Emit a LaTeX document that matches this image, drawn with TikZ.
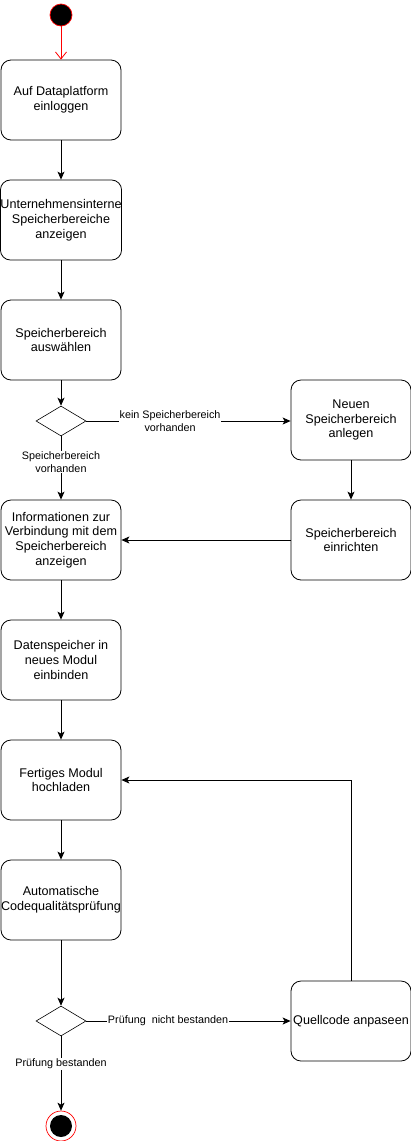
\documentclass[tikz,border=0pt]{standalone}
\usepackage{fontspec}
\setmainfont{Liberation Sans}
\usetikzlibrary{arrows.meta,shapes.geometric}
\begin{document}
\begin{tikzpicture}[x=1pt,y=-1pt,
  box/.style={draw,rounded corners=10pt,minimum width=120pt,minimum height=80pt,align=center,font=\fontsize{12.6}{14.8}\selectfont,inner sep=0pt,line width=0.8pt},
  dec/.style={draw,diamond,aspect=1.6667,minimum width=50pt,minimum height=30pt,inner sep=0pt,line width=0.6pt},
  lbl/.style={fill=white,align=center,font=\fontsize{10.8}{12.5}\selectfont,inner sep=1pt},
  arr/.style={line width=0.8pt,-{Stealth[length=8pt,width=7pt,inset=2pt]}}]
\useasboundingbox (0,0) rectangle (411,1141);
\node[circle,fill=black,draw=red,line width=0.7pt,minimum size=22pt,inner sep=0pt] (start) at (61,15) {};
\node[box] (b1) at (61,100) {Auf Dataplatform\\einloggen};
\node[box] (b2) at (61,220) {Unternehmensinterne\\Speicherbereiche\\anzeigen};
\node[box] (b3) at (61,340) {Speicherbereich\\auswählen};
\node[dec] (d1) at (61,421) {};
\node[box] (b4) at (61,540) {Informationen zur\\Verbindung mit dem\\Speicherbereich\\anzeigen};
\node[box] (b5) at (61,660) {Datenspeicher in\\neues Modul\\einbinden};
\node[box] (b6) at (61,780) {Fertiges Modul\\hochladen};
\node[box] (b7) at (61,900) {Automatische\\Codequalitätsprüfung};
\node[dec] (d2) at (61,1021) {};
\node[circle,draw=red,line width=0.7pt,minimum size=30pt,inner sep=0pt] (end) at (61,1126) {};
\node[circle,fill=black,minimum size=22pt,inner sep=0pt] (endin) at (61,1126) {};
\node[box] (r1) at (351,420) {Neuen\\Speicherbereich\\anlegen};
\node[box] (r2) at (351,540) {Speicherbereich\\einrichten};
\node[box] (r3) at (351,1021) {Quellcode anpaseen};
\draw[red,line width=0.8pt,-{Straight Barb[length=7pt,width=11pt]}] (start) -- (b1);
\draw[arr] (b1) -- (b2);
\draw[arr] (b2) -- (b3);
\draw[arr] (b3) -- (d1);
\draw[arr] (d1) -- node[lbl,pos=0.41]{Speicherbereich\\vorhanden} (b4);
\draw[arr] (d1.east) -- node[lbl,pos=0.41]{kein Speicherbereich\\vorhanden} (r1.west|-d1.east);
\draw[arr] (r1) -- (r2);
\draw[arr] (r2) -- (b4);
\draw[arr] (b4) -- (b5);
\draw[arr] (b5) -- (b6);
\draw[arr] (b6) -- (b7);
\draw[arr] (b7) -- (d2);
\draw[arr] (d2.east) -- node[lbl,pos=0.40]{Prüfung\ \ nicht bestanden} (r3.west);
\draw[arr] (d2) -- node[lbl,pos=0.37]{Prüfung bestanden} (end);
\draw[arr] (r3.north) |- (b6.east);
\end{tikzpicture}
\end{document}
